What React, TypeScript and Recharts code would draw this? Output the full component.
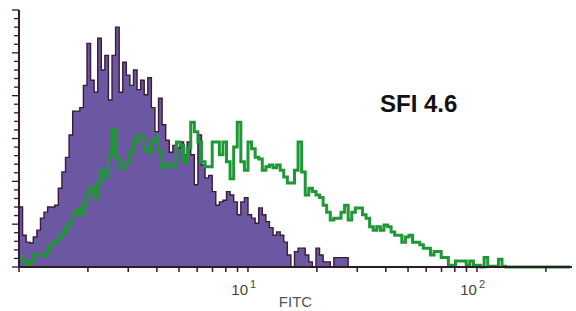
import { Area, ComposedChart, Line, XAxis, YAxis } from "recharts";

// 256-channel log histogram (4 decades), only the first ~155 channels are on screen
const CHANNELS_PER_DECADE = 64;
const CHANNEL_COUNT = 155;

// isotype control, counts per channel
const CONTROL = [
  70, 37, 29, 28, 35, 43, 57, 64, 70, 70, 72, 92, 111, 128, 154, 182, 182, 186, 212, 261,
  218, 204, 267, 230, 247, 195, 247, 280, 204, 239, 224, 212, 230, 207, 218, 201, 221, 186, 158, 197,
  166, 148, 134, 142, 139, 146, 131, 146, 131, 96, 154, 119, 104, 107, 88, 72, 76, 78, 88, 84,
  76, 61, 76, 81, 61, 57, 51, 69, 61, 53, 46, 37, 41, 37, 29, 14, 0, 18, 22, 22,
  14, 6, 0, 22, 14, 6, 6, 0, 11, 11, 11, 11,
];

// FITC stained sample
const STAINED = [
  12, 7, 1, 6, 14, 14, 13, 13, 22, 26, 30, 34, 39, 46, 51, 61, 67, 62, 74, 88,
  93, 81, 98, 113, 105, 131, 160, 128, 116, 116, 123, 134, 146, 154, 152, 137, 134, 146, 151, 134,
  116, 119, 120, 117, 146, 142, 123, 139, 169, 158, 146, 123, 117, 117, 146, 146, 131, 146, 123, 103,
  140, 169, 123, 113, 146, 138, 128, 126, 113, 117, 119, 116, 119, 113, 105, 98, 98, 113, 146, 111,
  84, 92, 88, 84, 81, 72, 64, 55, 57, 57, 64, 72, 55, 64, 69, 69, 61, 57, 47, 43,
  47, 43, 49, 47, 41, 37, 37, 29, 35, 37, 29, 29, 26, 22, 22, 14, 18, 18, 11, 11,
  2, 2, 7, 7, 7, 2, 7, 2, 2, 0, 11, 1, 1, 1, 9, 1,
];

const FITC_TICKS = [1, 2, 3, 4, 5, 6, 7, 8, 9, 10, 20, 30, 40, 50, 60, 70, 80, 90, 100, 200];
const COUNT_TICKS = [
  0, 10, 20, 30, 40, 50, 60, 70, 80, 90, 100, 110, 120, 130, 140, 150, 160, 170, 180, 190,
  200, 210, 220, 230, 240, 250, 260, 270, 280, 290, 300,
];

const INK = "#2e1a28";
const FONT = '"Liberation Sans", Arial, sans-serif';

const rows = Array.from({ length: CHANNEL_COUNT }, (_, i) => ({
  fitc: 10 ** (i / CHANNELS_PER_DECADE),
  control: CONTROL[i] ?? 0,
  stained: STAINED[i] ?? 0,
}));

function FitcTick({ x, y, payload }: any) {
  const v = payload.value;
  const exp = v === 10 ? "1" : v === 100 ? "2" : null;
  return (
    <g>
      <line x1={x} x2={x} y1={y} y2={y + 5} stroke={INK} strokeWidth={1.5} />
      {exp && (
        <text fontFamily={FONT} fill="#444">
          <tspan x={x} y={y + 28} textAnchor="end" fontSize={15}>
            10
          </tspan>
          <tspan x={x + 2} y={y + 21} fontSize={11}>
            {exp}
          </tspan>
        </text>
      )}
    </g>
  );
}

function CountTick({ x, y, payload }: any) {
  const len = payload.value % 50 === 0 ? 7 : 5;
  return <line x1={x - len} x2={x} y1={y} y2={y} stroke={INK} strokeWidth={1.3} />;
}

export default function App() {
  return (
    <div style={{ position: "absolute", left: 0, top: 0, width: 576, height: 311, background: "#fff" }}>
      <ComposedChart width={576} height={311} data={rows} margin={{ top: 10, right: 4, bottom: 0, left: 0 }}>
        <XAxis
          dataKey="fitc"
          type="number"
          scale="log"
          domain={[1, 260]}
          allowDataOverflow
          ticks={FITC_TICKS}
          interval={0}
          height={44}
          tickSize={0}
          tickMargin={0}
          tickLine={false}
          axisLine={{ stroke: INK, strokeWidth: 2 }}
          tick={<FitcTick />}
          label={{ value: "FITC", position: "insideBottom", offset: 4, fontSize: 15, fill: "#555", fontFamily: FONT }}
        />
        <XAxis
          xAxisId="top"
          orientation="top"
          type="number"
          scale="log"
          domain={[1, 260]}
          height={0}
          tick={false}
          tickLine={false}
          axisLine={{ stroke: INK, strokeWidth: 2 }}
        />
        <YAxis
          type="number"
          domain={[0, 300]}
          ticks={COUNT_TICKS}
          interval={0}
          width={19}
          tickSize={0}
          tickMargin={0}
          tickLine={false}
          axisLine={{ stroke: INK, strokeWidth: 2 }}
          tick={<CountTick />}
        />
        <YAxis
          yAxisId="right"
          orientation="right"
          domain={[0, 300]}
          width={0}
          tick={false}
          tickLine={false}
          axisLine={{ stroke: INK, strokeWidth: 2 }}
        />
        <Area
          dataKey="control"
          type="stepAfter"
          fill="#6c58a2"
          fillOpacity={1}
          stroke="#3a1b36"
          strokeWidth={1.4}
          isAnimationActive={false}
        />
        <Line
          dataKey="stained"
          type="stepAfter"
          stroke="#1e9834"
          strokeWidth={3}
          dot={false}
          isAnimationActive={false}
        />
      </ComposedChart>
      <div
        style={{
          position: "absolute",
          left: 380,
          top: 92,
          fontFamily: FONT,
          fontWeight: 700,
          fontSize: 24,
          lineHeight: "24px",
          color: "#111",
          whiteSpace: "nowrap",
        }}
      >
        SFI 4.6
      </div>
    </div>
  );
}
